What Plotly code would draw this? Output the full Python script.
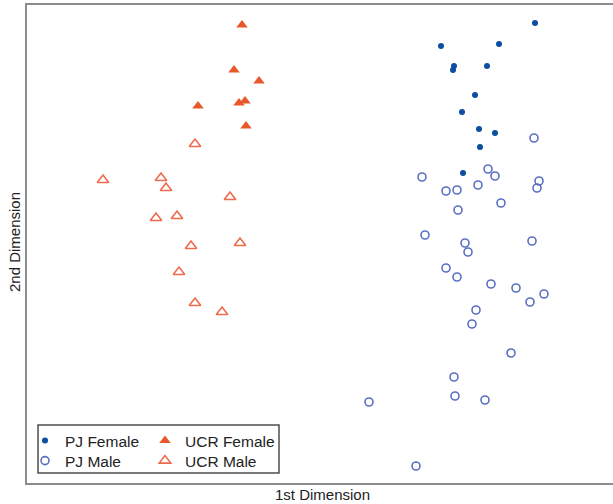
import plotly.graph_objects as go

# MDS coordinates (1st dimension, 2nd dimension)
pj_female_x = [2.15, 1.21, 1.79, 1.34, 1.33, 1.67, 1.55, 1.42, 1.59, 1.75, 1.60, 1.43]
pj_female_y = [2.22, 1.99, 2.01, 1.79, 1.75, 1.79, 1.50, 1.33, 1.16, 1.12, 0.98, 0.72]

pj_male_x = [2.14, 1.02, 1.68, 1.75, 2.19, 2.17, 1.58, 1.26, 1.37, 1.81, 1.38, 1.05, 1.45, 2.12,
             1.48, 1.26, 1.37, 1.71, 1.96, 2.24, 2.10, 1.56, 1.52, 1.91, 1.34, 1.35, 1.65, 0.49, 0.96]
pj_male_y = [1.07, 0.68, 0.76, 0.69, 0.64, 0.57, 0.60, 0.54, 0.55, 0.42, 0.35, 0.10, 0.02, 0.04,
             -0.07, -0.23, -0.32, -0.39, -0.43, -0.49, -0.57, -0.65, -0.79, -1.08, -1.32, -1.51, -1.55, -1.57, -2.21]

ucr_female_x = [-0.78, -0.86, -0.61, -1.22, -0.81, -0.75, -0.74]
ucr_female_y = [2.20, 1.75, 1.64, 1.39, 1.42, 1.44, 1.19]

ucr_male_x = [-1.25, -2.17, -1.59, -1.54, -0.90, -1.64, -1.43, -1.29, -0.80, -1.41, -1.25, -0.98]
ucr_male_y = [1.01, 0.65, 0.67, 0.57, 0.48, 0.27, 0.29, -0.01, 0.02, -0.27, -0.58, -0.67]

x_title = "1st Dimension"
y_title = "2nd Dimension"

BLUE = "#0b4ea2"
BLUE_OPEN = "#5a6fc0"
ORANGE = "#e8582b"
ORANGE_OPEN = "#ee6b4d"
FONT = "Liberation Sans, Arial, sans-serif"

fig = go.Figure()
fig.add_trace(go.Scatter(x=pj_female_x, y=pj_female_y, mode="markers", name="PJ Female",
                         marker=dict(symbol="circle", size=6, color=BLUE, line=dict(width=0)),
                         legend="legend", showlegend=True))
fig.add_trace(go.Scatter(x=pj_male_x, y=pj_male_y, mode="markers", name="PJ Male",
                         marker=dict(symbol="circle-open", size=8, color=BLUE_OPEN, line=dict(width=1.6)),
                         legend="legend3", showlegend=True))
fig.add_trace(go.Scatter(x=ucr_female_x, y=ucr_female_y, mode="markers", name="UCR Female",
                         marker=dict(symbol="triangle-up", size=10, color=ORANGE, line=dict(width=0)),
                         legend="legend2", showlegend=True))
fig.add_trace(go.Scatter(x=ucr_male_x, y=ucr_male_y, mode="markers", name="UCR Male",
                         marker=dict(symbol="triangle-up-open", size=10, color=ORANGE_OPEN, line=dict(width=1.6)),
                         legend="legend4", showlegend=True))

L, T, B = 27, 5, 21
W, H = 613, 504
pw, ph = W - L, H - T - B

def px(xp):
    return (xp - L) / pw

def py(yp):
    return (H - B - yp) / ph

legend_common = dict(bgcolor="rgba(0,0,0,0)", borderwidth=0, font=dict(family=FONT, size=15.5, color="#222"),
                     yanchor="middle", xanchor="left", itemwidth=30, tracegroupgap=0)

fig.update_layout(
    width=W, height=H,
    showlegend=True,
    margin=dict(l=L, r=0, t=T, b=B),
    paper_bgcolor="white", plot_bgcolor="white",
    font=dict(family=FONT, size=15, color="#222"),
    xaxis=dict(range=[-2.93, 2.93], showgrid=False, zeroline=False, showticklabels=False, ticks="",
               showline=True, mirror=True, linecolor="#8c8c8c", linewidth=2),
    yaxis=dict(range=[-2.38, 2.40], showgrid=False, zeroline=False, showticklabels=False, ticks="",
               showline=True, mirror=False, linecolor="#8c8c8c", linewidth=2),
    legend=dict(x=px(25), y=py(441), **legend_common),
    legend3=dict(x=px(25), y=py(461), **legend_common),
    legend2=dict(x=px(145), y=py(441), **legend_common),
    legend4=dict(x=px(145), y=py(461), **legend_common),
    shapes=[dict(type="rect", xref="paper", yref="paper",
                 x0=px(38), x1=px(279), y0=py(473), y1=py(425),
                 line=dict(color="#4d4d4d", width=1.5), fillcolor="rgba(0,0,0,0)")],
    annotations=[
        dict(text=x_title, xref="paper", yref="paper", x=px(322), y=py(494), showarrow=False,
             xanchor="center", yanchor="middle", font=dict(family=FONT, size=15, color="#222")),
        dict(text=y_title, xref="paper", yref="paper", x=px(14), y=py(242), showarrow=False,
             textangle=-90, xanchor="center", yanchor="middle", font=dict(family=FONT, size=15, color="#222")),
    ],
)

fig.write_html("out.html", config={"displayModeBar": False})

# remove the default browser body margin so the figure sits at the page's top-left corner
with open("out.html", "r", encoding="utf-8") as f:
    html = f.read()
html = html.replace("<head>", "<head><style>html,body{margin:0;padding:0;overflow:hidden;}</style>", 1)
with open("out.html", "w", encoding="utf-8") as f:
    f.write(html)
